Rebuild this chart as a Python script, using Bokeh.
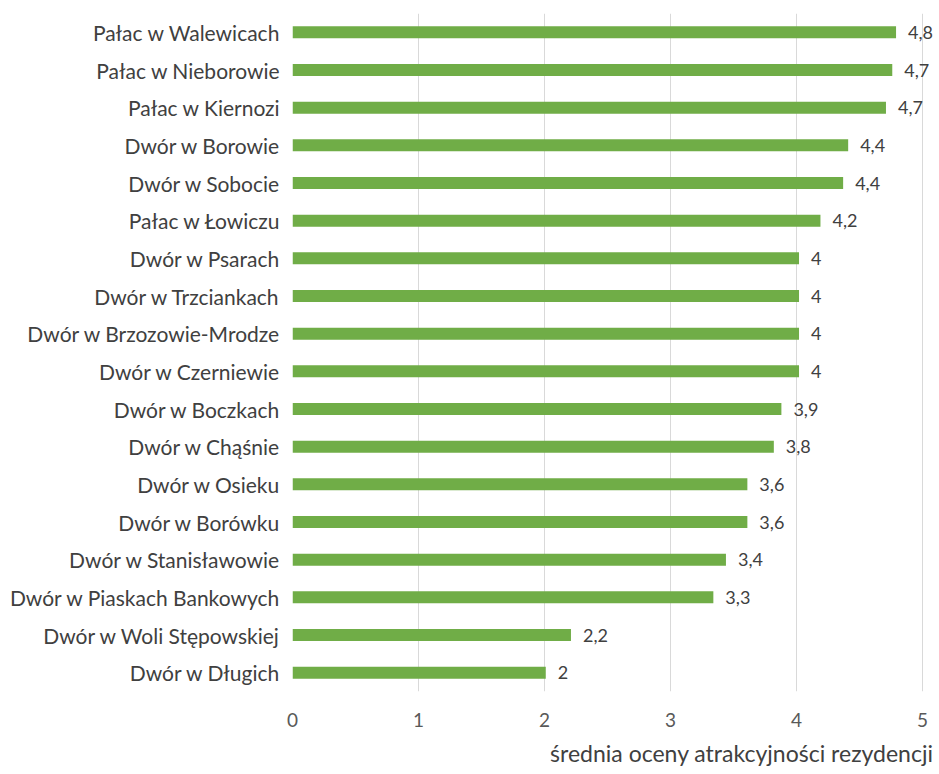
from bokeh.plotting import figure
from bokeh.models import ColumnDataSource, Range1d, FactorRange, Title, FixedTicker
from bokeh.core.properties import value
from bokeh.embed import file_html
from bokeh.resources import INLINE

names = [
    "Pałac w Walewicach", "Pałac w Nieborowie", "Pałac w Kiernozi",
    "Dwór w Borowie", "Dwór w Sobocie", "Pałac w Łowiczu", "Dwór w Psarach",
    "Dwór w Trzciankach", "Dwór w Brzozowie-Mrodze", "Dwór w Czerniewie",
    "Dwór w Boczkach", "Dwór w Chąśnie", "Dwór w Osieku", "Dwór w Borówku",
    "Dwór w Stanisławowie", "Dwór w Piaskach Bankowych",
    "Dwór w Woli Stępowskiej", "Dwór w Długich",
]
scores = [4.79, 4.76, 4.71, 4.41, 4.37, 4.19, 4.02, 4.02, 4.02, 4.02,
          3.88, 3.82, 3.61, 3.61, 3.44, 3.34, 2.21, 2.01]
score_labels = ["4,8", "4,7", "4,7", "4,4", "4,4", "4,2", "4", "4", "4", "4",
                "3,9", "3,8", "3,6", "3,6", "3,4", "3,3", "2,2", "2"]
x_ticks = [0, 1, 2, 3, 4, 5]
x_title = "średnia oceny atrakcyjności rezydencji"

FONT = "Lato"
src = ColumnDataSource(dict(name=names, score=scores, lab=score_labels))

p = figure(
    width=936, height=774,
    y_range=FactorRange(factors=list(reversed(names))),
    x_range=Range1d(0, 5.111),
    output_backend="svg", toolbar_location=None,
    min_border_left=292, min_border_right=0, min_border_top=13, min_border_bottom=80,
)
p.outline_line_color = None
p.background_fill_color = "white"
p.border_fill_color = "white"

p.hbar(y="name", right="score", left=0, height=0.32, source=src,
       fill_color="#70AD47", line_color=None)
p.text(x="score", y="name", text="lab", source=src, x_offset=12,
       text_align="left", text_baseline="middle",
       text_font=value(FONT), text_font_size="18px", text_color="#404040")

p.ygrid.grid_line_color = None
p.xgrid.grid_line_color = "#D9D9D9"
p.xgrid.grid_line_width = 1
p.xaxis.ticker = FixedTicker(ticks=x_ticks)

for ax in (p.xaxis[0], p.yaxis[0]):
    ax.axis_line_color = None
    ax.major_tick_line_color = None
    ax.minor_tick_line_color = None
    ax.major_tick_out = 0
    ax.major_tick_in = 0
    ax.minor_tick_out = 0
    ax.major_label_text_font = FONT
    ax.major_label_text_color = "#404040"

p.yaxis.major_label_text_font_size = "21px"
p.xaxis.major_label_text_font_size = "19px"
p.yaxis.major_label_standoff = 12
p.xaxis.major_label_standoff = 21
p.xaxis.major_label_text_color = "#595959"

t = Title(text=x_title, align="right", text_font=FONT, text_font_size="23px",
          text_font_style="normal", text_color="#404040", offset=3, standoff=15)
p.add_layout(t, "below")

open("out.html", "w").write(file_html(p, INLINE))
